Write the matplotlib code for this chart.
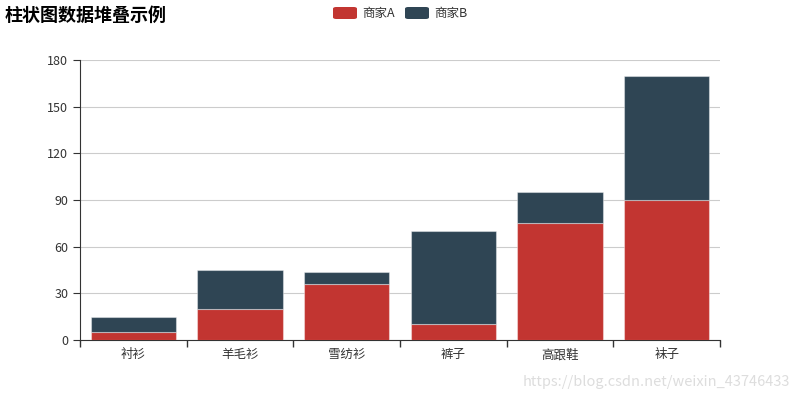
import matplotlib
matplotlib.use('Agg')
import matplotlib.pyplot as plt
import numpy as np
from matplotlib.patches import FancyBboxPatch

plt.rcParams['font.family'] = ['Noto Sans CJK SC', 'DejaVu Sans']

categories = ['衬衫', '羊毛衫', '雪纺衫', '裤子', '高跟鞋', '袜子']
sales_a = [5, 20, 36, 10, 75, 90]
sales_b = [10, 25, 8, 60, 20, 80]
yticks = [0, 30, 60, 90, 120, 150, 180]

color_a = '#c23531'
color_b = '#2f4554'

fig = plt.figure(figsize=(8, 4), dpi=100)
fig.patch.set_facecolor('white')
ax = fig.add_axes([0.1, 0.15, 0.8, 0.7])

x = np.arange(len(categories))
ax.bar(x, sales_a, width=0.8, color=color_a, edgecolor=(1, 1, 1, 0.4), linewidth=0.8, zorder=3)
ax.bar(x, sales_b, width=0.8, bottom=sales_a, color=color_b, edgecolor=(1, 1, 1, 0.4), linewidth=0.8, zorder=3)

ax.set_xlim(-0.5, len(categories) - 0.5)
ax.set_ylim(0, 180)
ax.set_yticks(yticks)
ax.set_xticks(x)
ax.set_xticklabels(categories)
ax.set_xticks(np.arange(-0.5, len(categories)), minor=True)
ax.tick_params(axis='x', which='major', length=0, pad=6, labelsize=9, colors='#333333')
ax.tick_params(axis='x', which='minor', length=5, color='#333333', width=1)
ax.tick_params(axis='y', length=5, color='#333333', labelsize=9, labelcolor='#333333')

ax.grid(axis='y', color='#cccccc', linewidth=0.8, zorder=0)
for s in ['top', 'right']:
    ax.spines[s].set_visible(False)
ax.spines['left'].set_color('#333333')
ax.spines['bottom'].set_color('#333333')

fig.text(0.006, 0.962, '柱状图数据堆叠示例', fontsize=13, fontweight='bold', ha='left', va='center', color='#000000')

# legend
for i, (name, c, x0) in enumerate([('商家A', color_a, 333), ('商家B', color_b, 405)]):
    box = FancyBboxPatch((x0 / 800, 1 - 19 / 400), 24 / 800, 12 / 400,
                         boxstyle='round,pad=0,rounding_size=0.004', transform=fig.transFigure,
                         facecolor=c, edgecolor='none')
    fig.patches.append(box)
    fig.text((x0 + 29) / 800, 1 - 13 / 400, name, fontsize=9, ha='left', va='center', color='#333333')

fig.text(0.988, 0.045, 'https://blog.csdn.net/weixin_43746433', fontsize=10.5, ha='right', va='center', color='#dddddd')

plt.savefig('out.png', dpi=100)
plt.close(fig)
